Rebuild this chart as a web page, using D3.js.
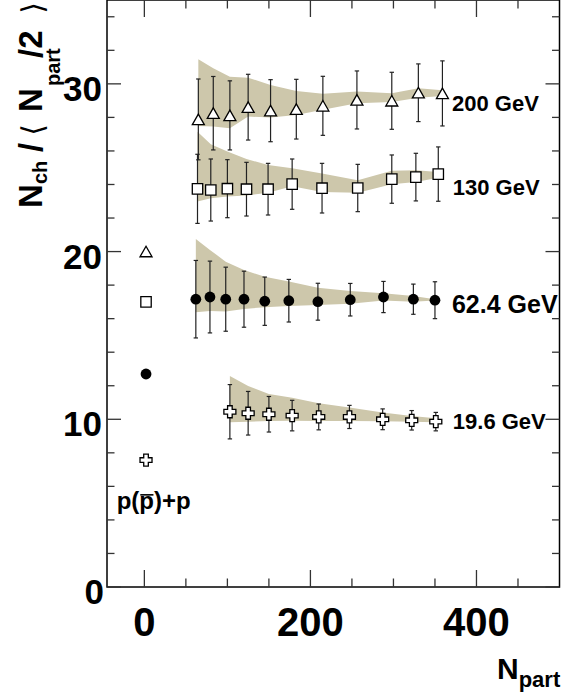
<!DOCTYPE html>
<html>
<head>
<meta charset="utf-8">
<script src="https://cdn.jsdelivr.net/npm/d3@7"></script>
<style>
  html, body { margin: 0; padding: 0; background: #fff; }
  svg { display: block; }
  text { font-family: "Liberation Sans", Arial, Helvetica, sans-serif; font-weight: bold; fill: #000; }
</style>
</head>
<body>
<div id="chart"></div>
<script>
// ---------------- data ----------------
// 200 GeV
const n200  = [65, 83, 103, 125, 152, 183, 215, 256, 298, 330, 359];
const v200  = [27.88, 28.25, 28.12, 28.61, 28.40, 28.49, 28.69, 29.04, 28.99, 29.47, 29.43];
const e200  = [2.41, 2.19, 2.06, 1.96, 1.85, 1.78, 1.76, 1.73, 1.70, 1.72, 1.94];
const hi200 = [31.47, 30.93, 30.43, 30.37, 29.93, 29.58, 29.41, 29.54, 29.44, 29.74, 29.62];
const lo200 = [27.49, 27.45, 27.35, 28.05, 27.99, 28.15, 28.46, 28.84, 28.92, 29.17, 29.27];
// 130 GeV
const n130  = [64, 80, 100, 123, 149, 178, 214, 257, 298, 327, 354];
const v130  = [23.74, 23.67, 23.75, 23.72, 23.72, 24.02, 23.78, 23.79, 24.32, 24.44, 24.62];
const e130  = [2.06, 1.85, 1.73, 1.60, 1.54, 1.50, 1.48, 1.41, 1.44, 1.42, 1.62];
const hi130 = [27.15, 26.40, 25.96, 25.52, 25.16, 24.97, 24.65, 24.25, 24.82, 24.85, 24.75];
const lo130 = [22.98, 23.18, 23.28, 23.34, 23.51, 23.90, 23.55, 23.50, 24.02, 24.15, 24.40];
// 62.4 GeV
const n62   = [62, 79, 98, 120, 145, 174, 209, 248, 288, 324, 350];
const v62   = [17.16, 17.29, 17.16, 17.16, 17.04, 17.07, 17.01, 17.13, 17.29, 17.16, 17.10];
const e62   = [2.31, 2.14, 1.91, 1.67, 1.44, 1.27, 1.10, 0.97, 0.93, 0.90, 1.10];
const hi62  = [20.75, 20.10, 19.40, 18.90, 18.50, 18.21, 17.85, 17.65, 17.51, 17.35, 17.16];
const lo62  = [16.38, 16.46, 16.42, 16.58, 16.68, 16.76, 16.82, 16.89, 17.09, 17.01, 17.09];
// 19.6 GeV
const n19   = [103, 125, 150, 178, 210, 247, 287, 322, 351];
const v19   = [10.45, 10.36, 10.30, 10.22, 10.14, 10.14, 10.00, 9.94, 9.86];
const e19   = [1.62, 1.30, 1.06, 0.91, 0.77, 0.69, 0.62, 0.58, 0.55];
const hi19  = [12.58, 11.99, 11.51, 11.29, 10.95, 10.71, 10.40, 10.20, 10.06];
const lo19  = [9.82, 9.86, 9.90, 9.92, 9.90, 9.90, 9.88, 9.86, 9.82];
// p(pbar)+p reference points
const ppN      = [2, 2, 2, 2];
const ppValues = [20.0, 17.0, 12.7, 7.57];
const ppShapes = ["triangle", "square", "circle", "cross"];

const seriesLabels = ["200 GeV", "130 GeV", "62.4 GeV", "19.6 GeV"];
const xTickLabels  = [0, 200, 400];
const yTickLabels  = [0, 10, 20, 30];

// ---------------- layout ----------------
const W = 561, H = 700;
const x = d3.scaleLinear().domain([-45, 500]).range([107, 559.5]);
const y = d3.scaleLinear().domain([0, 35]).range([587, 0]);
const bandColor = "#cdc7ab";

const svg = d3.select("#chart").append("svg").attr("width", W).attr("height", H);

const series = [
  {n: n200, v: v200, e: e200, hi: hi200, lo: lo200, shape: "triangle", label: seriesLabels[0], lx: 370.5, ly: 28.38, fs: 22},
  {n: n130, v: v130, e: e130, hi: hi130, lo: lo130, shape: "square",   label: seriesLabels[1], lx: 371.5, ly: 23.37, fs: 22},
  {n: n62,  v: v62,  e: e62,  hi: hi62,  lo: lo62,  shape: "circle",   label: seriesLabels[2], lx: 370.5, ly: 16.34, fs: 25},
  {n: n19,  v: v19,  e: e19,  hi: hi19,  lo: lo19,  shape: "cross",    label: seriesLabels[3], lx: 371.5, ly: 9.42,  fs: 22}
];

// bands
const area = d3.area().x(d => x(d.n)).y0(d => y(d.lo)).y1(d => y(d.hi));
series.forEach(s => {
  const pts = s.n.map((n, i) => ({n, lo: s.lo[i], hi: s.hi[i]}));
  svg.append("path").attr("d", area(pts)).attr("fill", bandColor).attr("stroke", "none");
});

// marker shapes
function markerPath(shape) {
  if (shape === "triangle") return "M0,-5.3L6,5.2L-6,5.2Z";
  if (shape === "square") return "M-5.2,-5.2H5.2V5.2H-5.2Z";
  if (shape === "cross") {
    const a = 2.3, L = 6;
    return `M${-a},${-L}H${a}V${-a}H${L}V${a}H${a}V${L}H${-a}V${a}H${-L}V${-a}H${-a}Z`;
  }
  return null;
}
function drawMarker(g, shape, cx, cy) {
  if (shape === "circle") {
    g.append("circle").attr("cx", cx).attr("cy", cy).attr("r", 5.4).attr("fill", "#000");
  } else {
    g.append("path").attr("d", markerPath(shape)).attr("transform", `translate(${cx},${cy})`)
      .attr("fill", "#fff").attr("stroke", "#000").attr("stroke-width", 1.3).attr("stroke-linejoin", "miter");
  }
}

// error bars + markers
series.forEach(s => {
  const g = svg.append("g");
  s.n.forEach((n, i) => {
    const cx = x(n), yt = y(s.v[i] + s.e[i]), yb = y(s.v[i] - s.e[i]);
    g.append("line").attr("x1", cx).attr("x2", cx).attr("y1", yt).attr("y2", yb)
      .attr("stroke", "#222").attr("stroke-width", 1.2);
    [yt, yb].forEach(yy => g.append("line").attr("x1", cx - 2.2).attr("x2", cx + 2.2).attr("y1", yy).attr("y2", yy)
      .attr("stroke", "#222").attr("stroke-width", 1.2));
  });
  s.n.forEach((n, i) => drawMarker(g, s.shape, x(n), y(s.v[i])));
  svg.append("text").attr("x", x(s.lx)).attr("y", y(s.ly)).attr("font-size", s.fs).text(s.label);
});

// p+p points
const gpp = svg.append("g");
ppN.forEach((n, i) => drawMarker(gpp, ppShapes[i], x(n), y(ppValues[i])));

// p(pbar)+p label
const ppText = svg.append("text").attr("x", x(-33.4)).attr("y", y(4.66)).attr("font-size", 24).text("p(p)+p");
{
  const node = ppText.node();
  const s0 = node.getStartPositionOfChar(2), e0 = node.getEndPositionOfChar(2);
  svg.append("line").attr("x1", s0.x + 1).attr("x2", e0.x - 0.5)
    .attr("y1", s0.y - 14).attr("y2", s0.y - 14).attr("stroke", "#000").attr("stroke-width", 1.6);
}

// frame
const x0 = x.range()[0], x1 = x.range()[1], yTop = y.range()[1], yBot = y.range()[0];
svg.append("rect").attr("x", x0).attr("y", yTop).attr("width", x1 - x0).attr("height", yBot - yTop)
  .attr("fill", "none").attr("stroke", "#000").attr("stroke-width", 1.5);

// ticks
const tickCol = "#333";
const xMajor = xTickLabels;
const xMinor = d3.range(0, 500, 50).filter(v => !xMajor.includes(v));
const yMajor = yTickLabels;
const yMinor = d3.range(2, 35, 2).filter(v => !yMajor.includes(v));
const tg = svg.append("g").attr("stroke", tickCol).attr("stroke-width", 1.3);
xMajor.concat(xMinor).forEach(v => {
  const L = xMajor.includes(v) ? 17 : 8.5;
  tg.append("line").attr("x1", x(v)).attr("x2", x(v)).attr("y1", yBot).attr("y2", yBot - L);
  tg.append("line").attr("x1", x(v)).attr("x2", x(v)).attr("y1", yTop).attr("y2", yTop + L);
});
yMajor.concat(yMinor).forEach(v => {
  const L = yMajor.includes(v) ? 14 : 7.5;
  tg.append("line").attr("x1", x0).attr("x2", x0 + L).attr("y1", y(v)).attr("y2", y(v));
  tg.append("line").attr("x1", x1).attr("x2", x1 - L).attr("y1", y(v)).attr("y2", y(v));
});

// tick labels
xTickLabels.forEach(v => svg.append("text").attr("x", x(v)).attr("y", 636).attr("text-anchor", "middle")
  .attr("font-size", 40).text(v));
yTickLabels.forEach(v => svg.append("text").attr("x", v === 0 ? 104 : 102).attr("y", y(v) + 17).attr("text-anchor", "end")
  .attr("font-size", 35).text(v));

// x title
const xt = svg.append("text").attr("x", 497).attr("y", 679).attr("font-size", 30);
xt.append("tspan").text("N");
xt.append("tspan").attr("font-size", 22).attr("dy", 8).text("part");

// y title (rotated pieces)
const yt = svg.append("g").attr("transform", "translate(42,0) rotate(-90)");
const yPieces = [
  {t: "N", at: 208, dy: 0, fs: 33},
  {t: "ch", at: 184, dy: 5, fs: 20},
  {t: "/", at: 152, dy: 0, fs: 33},
  {t: "\u27E8", mid: 130, dy: 1, fs: 30, fam: "DejaVu Sans", w: "normal"},
  {t: "N", at: 112, dy: 0, fs: 33},
  {t: "part", at: 86, dy: 18, fs: 20},
  {t: "/2", at: 58, dy: 0, fs: 33},
  {t: "\u27E9", mid: 8, dy: 1, fs: 30, fam: "DejaVu Sans", w: "normal"}
];
yPieces.forEach(p => {
  const t = yt.append("text").attr("y", p.dy).attr("font-size", p.fs).text(p.t);
  if (p.mid !== undefined) t.attr("x", -p.mid).attr("text-anchor", "middle");
  else t.attr("x", -p.at);
  if (p.fam) t.style("font-family", p.fam).style("font-weight", p.w);
});
</script>
</body>
</html>
